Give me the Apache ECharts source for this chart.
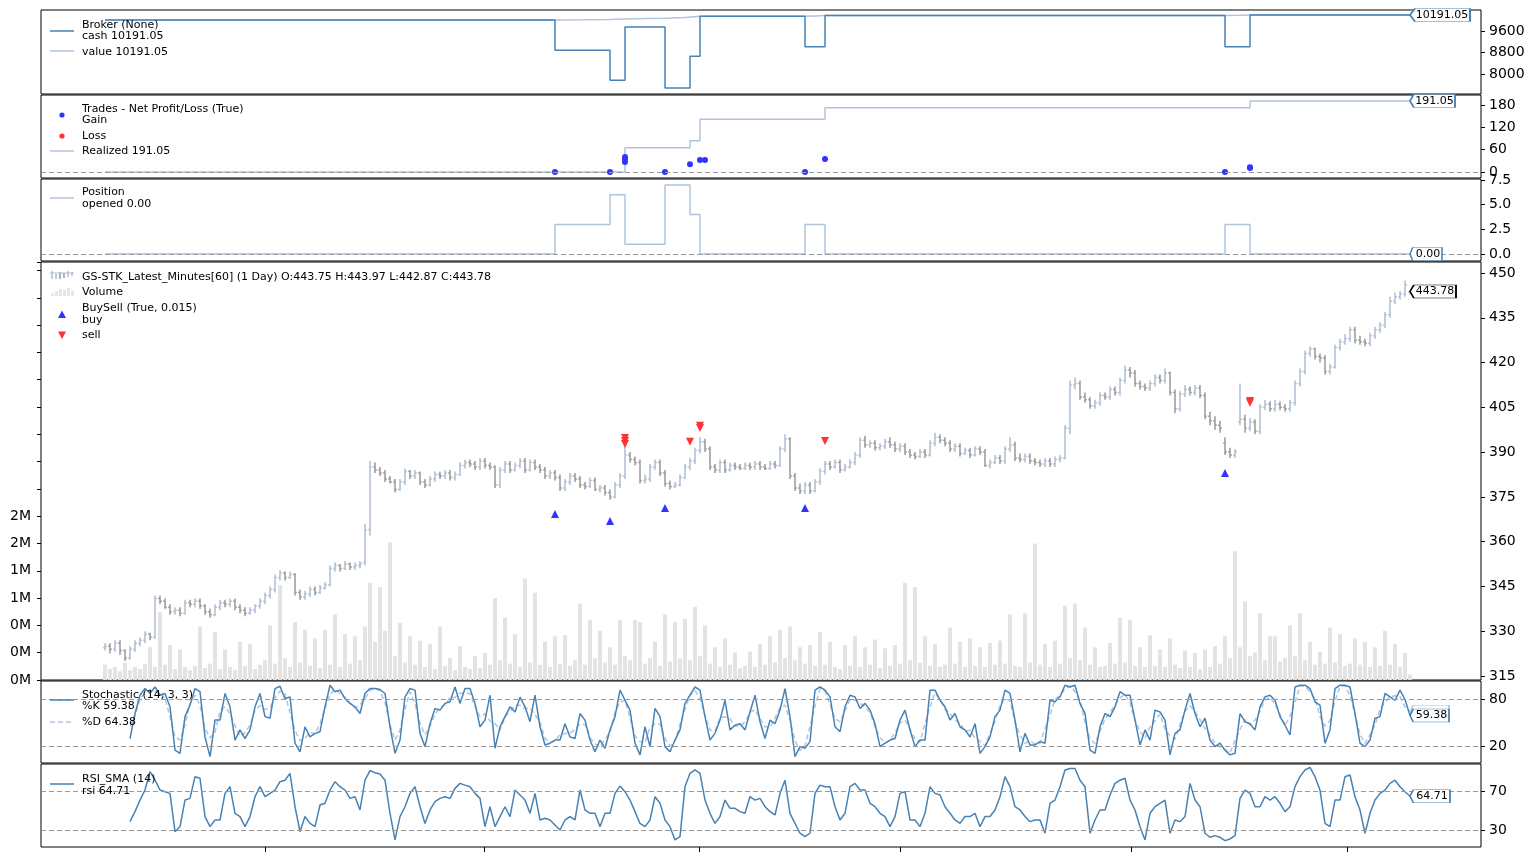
<!DOCTYPE html>
<html><head><meta charset="utf-8">
<script src="https://cdn.jsdelivr.net/npm/echarts@6/dist/echarts.min.js"></script>
<style>html,body{margin:0;padding:0;background:#fff}#c{width:1535px;height:862px}</style>
</head><body><div id="c"></div>
<script>
// ---------------- DATA ----------------
// bar index 0..261 (resampled hourly bars)
const priceOpen = [
324.5,325,324,326,323.5,321,324,326,327,329,
328,341,340,338,336.5,337,336,339.5,339,340,
338.5,336.5,335.5,338,339.5,339,340,338,337,336,
337,338.5,340,342,344,348,349.5,348,349,343,
341.5,342.5,344,343,344.5,345.5,351,352,351,352.5,
351.5,352,353,364,385,384,383,381,380,377.5,
380,383.5,382,383,380,379,381,382.5,382,383,
381.5,382.5,385.5,386.5,386,385,387,385.5,385,379,
384,386,384,385.5,387,384,386.5,385,384,382,
383,381.5,378,380,382,381,379,378.5,380.5,377.5,
378,376.5,375,379,382,389,387.5,386.5,380.5,381,
385,386.5,383,379.5,378.5,379,381.5,385,387,390.5,
393.5,391,385,384,386.5,384,385.5,385,384.5,385.5,
385,386,385,384.5,386,385.5,391,394.5,382,378,
377,379,377,380,383.5,386,385,386.5,384,385,
386.5,389,394,392.5,393,391.5,392,393.5,392.5,391,
392,390,389,388.5,390,389,393,395,394,393,
391,392,389.5,390.5,389,391,390,385.5,386.5,388,
387,391,392.5,388,387.5,388.5,387,386.5,386,387,
386,387.5,388,398,412.5,413,408.5,407.5,405.5,406.5,
409,408.5,411,410,414,417.5,416.5,413,412,411.5,
413,415,414,416.5,410,404.5,409.5,411,410,411.5,
409,402,400.5,399,393,390,389,400,401,398,
400,397,405,406,404.5,406,405,404.5,406.5,413,
417,423,424.5,422,421.5,417,418.5,425,427,428,
431,427.5,427,426.5,429,431,432.5,436,440.5,442,
443,443.75];
const priceHigh = [
326,326,327,327,324,325,327,328,330,329.5,
342,342,341,339,338,338,340.5,340.5,341,341,
339,337.5,339,340.5,340.5,341,341,339,338,338,
339,341,343,345,349,350.5,350,350,349.5,344,
343.5,345,345,345.5,346.5,352,353,352.5,353.5,353,
353,353.5,366,387,386.5,385,384,382,381,381,
384.5,384,384,383.5,381,382,383.5,383.5,384,384,
383.5,386.5,387.5,387.5,387,388,388,386.5,385.5,385,
387,387,386.5,388,388,387.5,387.5,386,385,384,
384,382.5,381,383,383,382,380,381.5,381.5,379,
379,377.5,380,383,393.5,390,388.5,387.5,382.5,386,
387.5,387.5,384,380.5,380,382.5,386,388,391.5,395,
394.5,392,386,387.5,387.5,386.5,386.5,386,386.5,386.5,
387,387,386,387,387,392,396,395,383,379.5,
380,380,381,384.5,387,387,387.5,387.5,386,387.5,
390,395,395.5,394,394,393,394.5,395,393.5,393,
393,391,390,391,391,394,396.5,396,395,394,
393,393,391.5,391.5,392,392,391,387.5,389,389,
392,395,393.5,389.5,389.5,389.5,388,387.5,388,388,
388.5,389,399,414,415,414,410,408.5,407.5,410,
410,412,412,415,419,418.5,417.5,414,413,414,
416,416,418,417,411,410.5,412.5,412,412.5,412.5,
410,403.5,402,400.5,395,391.5,391,413,402.5,401.5,
401,406,407.5,407,407.5,407,406,407.5,414,418,
424,425.5,425,423,422.5,419.5,426,428,429.5,432,
432,429,428,430,432,433.5,437,442,443.5,444,
447.5,443.97];
const priceLow = [
323.5,322.5,323,322,320,320.5,323,325,326,327,
327.5,339,337.5,335.5,335.5,335,335.5,338,338,337.5,
335.5,334.5,335,337,338,338,337,336,335,335.5,
336,337.5,339,341,343,347,347,347.5,342,340.5,
340.5,341.5,342,342.5,344,345,350,350,350.5,350.5,
350.5,351,352,362,383,382,380,379.5,376.5,377,
379,381,381,379,378,378.5,380,381,381,380.5,
380.5,382,384.5,385,384,384,384.5,384,378,378,
383,383,383.5,384.5,383,383.5,384,383,381,381,
380.5,377,377,379,380,378,377.5,378,377,376.5,
375.5,374,374.5,378,381,386.5,385.5,379.5,379.5,380,
384,382,378.5,377.5,378,378.5,381,384,386,389.5,
390,384,383,383,383,383.5,384,384,384,384,
384,384,384,384,384.5,385,390,381,377,376,
376,376,376.5,379,382.5,384,384.5,383,383.5,384.5,
385.5,388,391.5,391.5,390.5,390.5,391,391.5,390,390,
389,388,387.5,388,388,388.5,392,393,392,390,
390,388.5,389,388,388.5,389,385,384.5,386,386,
386,390,387,386.5,386.5,386,385.5,385,385,385,
385,386.5,387.5,396,411,407.5,406.5,404.5,404.5,405.5,
407.5,407.5,409,409,413,415,412,411,410.5,410.5,
412,413,413,409,403,403.5,408.5,409,409,408,
401,399,397.5,396.5,389,388,388,399,396.5,397,
396,396,404,403.5,403.5,404,403.5,403.5,405.5,412,
416,422,421,420,416,416,418,424,426,427,
426.5,426,425.5,425.5,428,430,431.5,435,439.5,441,
442,442.87];
const priceClose = [
325,324,326,323.5,321,324,326,327,329,328,
341,340,338,336.5,337,336,339.5,339,340,338.5,
336.5,335.5,338,339.5,339,340,338,337,336,337,
338.5,340,342,344,348,349.5,348,349,343,341.5,
342.5,344,343,344.5,345.5,351,352,351,352.5,351.5,
352,352.5,364,385,384,383,381,380,377.5,380,
383.5,382,383,380,379,381,382.5,382,383,381.5,
382.5,385.5,386.5,386,385,387,385.5,385,379,384,
386,384,385.5,387,384,386.5,385,384,382,383,
381.5,378,380,382,381,379,378.5,380.5,377.5,378,
376.5,375,379,382,389,387.5,386.5,380.5,381,385,
386.5,383,379.5,378.5,379,381.5,385,387,390.5,393.5,
391,385,384,386.5,384,385.5,385,384.5,385.5,385,
386,385,384.5,386,385.5,391,394.5,382,378,377,
379,377,380,383.5,386,385,386.5,384,385,386.5,
389,394,392.5,393,391.5,392,393.5,392.5,391,392,
390,389,388.5,390,389,393,395,394,393,391,
392,389.5,390.5,389,391,390,385.5,386.5,388,387,
391,392.5,388,387.5,388.5,387,386.5,386,387,386,
387.5,388,398,412.5,413,408.5,407.5,405.5,406.5,409,
408.5,411,410,414,417.5,416.5,413,412,411.5,413,
415,414,416.5,410,404.5,409.5,411,410,411.5,409,
402,400.5,399,398,390,389,390,401,398,400,
397,405,406,404.5,406,405,404.5,406.5,413,417,
423,424.5,422,421.5,417,418.5,425,427,428,431,
427.5,427,426.5,429,431,432.5,436,440.5,442,443,
446,443.78];
// volume in millions
const volumeM = [
0.14,0.1,0.12,0.08,0.16,0.09,0.12,0.1,0.15,0.3,
0.12,0.62,0.14,0.32,0.1,0.28,0.12,0.09,0.13,0.49,
0.11,0.15,0.44,0.1,0.28,0.12,0.09,0.35,0.13,0.33,
0.1,0.14,0.18,0.5,0.15,0.87,0.2,0.12,0.53,0.16,
0.46,0.13,0.38,0.11,0.46,0.14,0.6,0.12,0.42,0.15,
0.4,0.18,0.49,0.89,0.35,0.85,0.45,1.26,0.22,0.52,
0.16,0.4,0.14,0.36,0.12,0.33,0.1,0.49,0.13,0.2,
0.09,0.31,0.12,0.1,0.22,0.11,0.25,0.14,0.75,0.18,
0.57,0.15,0.42,0.12,0.93,0.16,0.8,0.14,0.35,0.12,
0.4,0.15,0.41,0.13,0.18,0.7,0.14,0.55,0.2,0.45,
0.16,0.3,0.14,0.55,0.22,0.18,0.55,0.53,0.15,0.2,
0.35,0.13,0.6,0.17,0.53,0.2,0.56,0.18,0.67,0.22,
0.5,0.15,0.3,0.12,0.38,0.14,0.25,0.11,0.13,0.26,
0.12,0.33,0.14,0.4,0.16,0.46,0.2,0.49,0.18,0.3,
0.15,0.32,0.13,0.44,0.14,0.35,0.12,0.1,0.32,0.13,
0.4,0.12,0.3,0.14,0.37,0.11,0.29,0.13,0.32,0.15,
0.89,0.18,0.85,0.16,0.4,0.13,0.33,0.12,0.14,0.48,
0.15,0.35,0.12,0.38,0.13,0.3,0.12,0.34,0.14,0.36,
0.15,0.6,0.13,0.12,0.61,0.16,1.25,0.14,0.33,0.12,
0.36,0.15,0.68,0.2,0.7,0.18,0.48,0.14,0.3,0.12,
0.13,0.34,0.15,0.57,0.16,0.55,0.13,0.3,0.12,0.41,
0.13,0.28,0.12,0.38,0.14,0.11,0.27,0.12,0.25,0.1,
0.28,0.12,0.31,0.15,0.4,0.2,1.18,0.3,0.72,0.22,
0.25,0.61,0.18,0.4,0.4,0.17,0.2,0.5,0.22,0.61,
0.18,0.35,0.14,0.26,0.15,0.48,0.16,0.42,0.13,0.15,
0.38,0.14,0.35,0.12,0.3,0.13,0.45,0.14,0.33,0.12,
0.25,0.05];
const volTickLabels = ['0M','0M','0M','1M','1M','2M','2M'];
const stochK = [
null,null,null,null,null,30,62,85.5,94,88,
96,85.5,87.7,70.6,15,11,58,72.8,94,90,
32,6.8,53.6,53.6,87.7,70.6,28,41,30,41,
70.6,87.7,58,56,94,97,81,83.4,24,13,
45,32,36.6,38.7,70.6,98.3,90,92,81,75,
70.6,62,87.7,94,94,92.8,87.7,45,11,28,
83.4,94,92,36.6,19.6,49,68.5,66.4,75,77,
96,75,94,94,75,45,53.6,85.5,17.5,45,
58,70.6,64,83,70.6,51.5,85.5,45,21.7,24,
28,28,49,32,30,62,53.6,28,13,28,
17.5,41,58,92,79,66.4,24,9,45,19.6,
68.5,58,19.6,13,28,41,75,85.5,96,92,
58,28,36.6,53.6,79,41,47,49,41,64,
85.5,51.5,30,53.6,49,66.4,94,58,6.8,19.6,
17.5,26,92,96,92,83.4,45,38.7,70.6,85.5,
83.4,68.5,75,66.4,49,19.6,24,28,30,53.6,
66.4,41,19.6,28,28,92,92,79,70.6,53.6,
62,45,41,32,49,11,19.6,32,58,66.4,
92,87.7,53.6,13,36.6,21.7,21.7,26,24,79,
77,83.4,98.3,96,98.3,75,62,15,11,45,
62,58,70.6,90,85.5,85.5,53.6,21.7,41,28,
66.4,64,53.6,9,36.6,41,66.4,87.7,62,45,
56,28,19.6,24,15,9,11,62,51.5,49,
41,70.6,83.4,85.5,79,58,47,34.5,96,98.3,
98.3,94,77,72.8,24,41,94,98.3,98.3,96,
62,24,19.6,28,56,58,87.7,83.4,79,92,
80,59.38];
const stochD = [
null,null,null,null,null,45,59,80.5,89,
92.7,89.8,89.7,81.3,57.8,32.2,28,47.3,74.9,85.6,
72,42.9,30.8,38,65,70.6,62.1,46.5,33,37.3,
47.2,66.4,72.1,67.2,69.3,82.3,90.7,87.1,62.8,40.1,
27.3,30,37.9,35.8,48.6,69.2,86.3,93.4,87.7,82.7,
75.5,69.2,73.4,81.2,91.9,93.6,91.5,75.2,47.9,28,
40.8,68.5,89.8,74.2,49.4,35.1,45.7,61.3,70,72.8,
82.7,82.7,88.3,87.7,87.7,71.3,57.9,61.4,52.2,49.3,
40.2,57.9,64.2,72.5,72.5,68.4,69.2,60.7,50.7,30.2,
24.6,26.7,35,36.3,37,41.3,48.5,47.9,31.5,23,
19.5,28.8,38.8,63.7,76.3,79.1,56.5,33.1,26,24.5,
44.4,48.7,48.7,30.2,20.2,27.3,48,67.2,85.5,91.2,
82,59.3,40.9,39.4,56.4,57.9,55.7,45.7,45.7,51.3,
63.5,67,55.7,45,44.2,56.3,69.8,72.8,52.9,28.1,
14.6,21,45.2,71.3,93.3,90.5,73.5,55.7,51.4,64.9,
79.8,79.1,75.6,70,63.5,45,30.9,23.9,27.3,37.2,
50,53.7,42.3,29.5,25.2,49.3,70.7,87.7,80.5,67.7,
62.1,53.5,49.3,39.3,40.7,30.7,26.5,20.9,36.5,52.1,
72.1,82,77.8,51.4,34.4,23.8,26.7,23.1,23.9,43,
60,79.8,86.2,92.6,97.5,89.8,78.4,50.7,29.3,23.7,
39.3,55,63.5,72.9,82,87,74.9,53.6,38.8,30.2,
45.1,52.8,61.3,42.2,33.1,28.9,48,65,72,64.9,
54.3,43,34.5,23.9,19.5,16,11.7,27.3,41.5,54.2,
47.2,53.5,65,79.8,82.6,74.2,61.3,46.5,59.2,76.3,
97.5,96.9,89.8,81.3,57.9,45.9,53,77.8,96.9,97.5,
85.4,60.7,35.2,23.9,34.5,47.3,67.2,76.4,83.4,84.8,
84,70,64.38];
const rsi = [
null,null,null,null,null,38.8,49,60.8,71,89.7,
81,71,69.3,67.6,28.6,33.7,60.8,62.5,84.6,83,
44,33.7,40.5,40.5,67.6,74.4,47.3,44,33.7,44,
64.2,74.4,64.2,67.6,71,79.5,81,88,54,28.6,
44,37,33.7,55.8,57.5,71,79.5,74.4,71,62.5,
64.2,50.7,81,90.7,88.6,87.3,81,47.3,20.2,44,
54,67.6,74.4,54,37,50.7,59.2,62.5,64.2,62.5,
72.7,77.8,76,74.4,67.6,62.5,33.7,54,33.7,44,
54,44,71,66,60.8,47.3,67.6,40.5,42.2,40.5,
35.4,30.3,40.5,44,40.5,71,50.7,47.3,47.3,33.7,
47.3,47.3,67.6,75,69.3,60.8,49,37,33.7,40.5,
64.2,57.5,40.5,33.7,20.2,23.6,74.4,88,91.4,88,
60.8,47.3,37,44,60.8,52.4,52.4,49,47.3,64.2,
60.8,62.5,54,49,45.6,67.6,81,47.3,37,27,
23.6,27,67.6,76,74.4,74.4,54,40.5,47.3,74.4,
77.8,71,71,57.5,54,47.3,44,33.7,44,67.6,
69.3,40.5,40.5,33.7,47.3,74.4,67.6,66,54,47.3,
40.5,37,44,44,47.3,33.7,44,44,50.7,64.2,
84.6,74.4,54,50.7,44,38.8,40.5,40.5,27,57.5,
60.8,74.4,91.4,93,93,81,74.4,27,40.5,50.7,
50.7,66,77.8,81,83,60.8,50.7,33.7,20.2,47.3,
54,57.5,60.8,27,40.5,38.8,44,77.8,60.8,54,
27,22.9,24.6,22.9,19.5,21.2,24.6,62.5,71,67.6,
54,54,64.2,60.8,64.2,57.5,49,54,74.4,84.6,
91.4,94,84.6,71,37,33.7,60.8,60.8,84.6,86.3,
64.2,50.7,27,47.3,60.8,67.6,71,77.8,81,74.4,
69.3,64.71];
// broker / trades / position: change points (bar index, value)
const cashIdx  = [0, 90, 101, 104, 112, 117, 119, 140, 144, 224, 229, 261];
const cashVal  = [10000, 8890, 7786, 9746, 7502, 8672, 10140, 9024, 10170, 9021, 10191.05, 10191.05];
const valueIdx = [0, 90, 96, 101, 104, 108, 112, 116, 119, 140, 142, 144, 224, 227, 229, 261];
const valueVal = [10000, 10000, 10010, 10020, 10045, 10055, 10070, 10100, 10140, 10140, 10155, 10170, 10170, 10180, 10191.05, 10191.05];
const realIdx  = [0, 104, 117, 119, 144, 229, 261];
const realVal  = [0, 65.3, 84.1, 141.6, 172.8, 191.05, 191.05];
const gainIdx  = [90, 101, 104, 104, 104, 112, 117, 119, 120, 140, 144, 224, 229, 229];
const gainVal  = [0, 0, 27, 35, 40, 0, 21, 32, 32, 0, 35, 0, 13, 11];
const lossIdx  = [];
const lossVal  = [];
const posIdx   = [0, 90, 101, 104, 112, 117, 119, 140, 144, 224, 229, 261];
const posVal   = [0, 3, 6, 1, 7, 4, 0, 3, 0, 3, 0, 0];
const buyIdx   = [90, 101, 112, 140, 224];
const buyVal   = [369.3, 366.9, 371.3, 371.3, 383.0];
const sellIdx  = [104, 104, 104, 117, 119, 119, 144, 229, 229];
const sellVal  = [394.7, 393.7, 392.7, 393.5, 398.8, 398.1, 393.7, 407.1, 406.5];
// axis ticks
const brokerTicks = [8000, 8800, 9600];
const tradeTicks  = [0, 60, 120, 180];
const posTicks    = [0, 2.5, 5, 7.5];
const priceTicks  = [315, 330, 345, 360, 375, 390, 405, 420, 435, 450];
const stochTicks  = [20, 80];
const rsiTicks    = [30, 70];
const xTickPos    = [32, 75.8, 118.9, 159, 205.2, 248.4];

// ---------------- CHART ----------------
const FONT = '"DejaVu Sans", sans-serif';
const STEEL = '#4682b4', LIGHT = '#b0c4de', UP = '#aebdd2', DOWN = '#999999';
const BLUE = '#3333ff', RED = '#ff3333';
const XMIN = -12.8, XMAX = 275.2;
const pairs = (a, b) => a.map((x, i) => [x, b[i]]);
const idxSeries = arr => arr.map((v, i) => [i, v]);
const last = a => a[a.length - 1];

const gridBoxes = [[10, 84], [95, 83], [179, 82], [262, 418], [681, 82], [764, 83]];
const grid = gridBoxes.map(([t, h]) => ({left: 41, width: 1440, top: t, height: h, show: true,
  borderColor: '#000', borderWidth: 1, backgroundColor: 'transparent', containLabel: false}));

const xAxis = gridBoxes.map((g, i) => ({
  type: 'value', gridIndex: i, min: XMIN, max: XMAX,
  axisLine: {show: false, onZero: false}, splitLine: {show: false}, axisLabel: {show: false},
  axisTick: i === 5 ? {show: true, customValues: xTickPos, length: 5, lineStyle: {color: '#000', width: 1}} : {show: false}
}));

function yAx(gi, min, max, ticks, fmt) {
  return {type: 'value', gridIndex: gi, position: 'right', min, max,
    axisLine: {show: false, onZero: false}, splitLine: {show: false},
    axisTick: {show: true, customValues: ticks, length: 4, lineStyle: {color: '#000'}},
    axisLabel: {show: true, customValues: ticks, formatter: fmt || (v => String(v)), fontFamily: FONT, fontSize: 14, color: '#000', margin: 8}};
}
const yAxis = [
  yAx(0, 7283, 10372, brokerTicks),
  yAx(1, -16.1, 206.9, tradeTicks),
  yAx(2, -0.71, 7.6, posTicks, v => v.toFixed(1)),
  yAx(3, 313.66, 453.68, priceTicks),
  yAx(4, -1.4, 103.7, stochTicks),
  yAx(5, 13, 97.5, rsiTicks),
  {type: 'value', gridIndex: 3, position: 'left', min: 0, max: 3.828, interval: 0.25,
    axisLine: {show: false, onZero: false}, splitLine: {show: false},
    axisTick: {show: true, length: 4, lineStyle: {color: '#000'}},
    axisLabel: {show: true, margin: 10, fontFamily: FONT, fontSize: 14, color: '#000',
      formatter: v => { const k = Math.round(v / 0.25); return (Math.abs(v - k * 0.25) < 1e-6 && volTickLabels[k]) || ''; }}}
];

function tag(coord, text, w, border, showText) {
  return {silent: true, animation: false,
    symbol: 'path://M0,6L5,0L60,0L60,12L5,12Z', symbolSize: [w, 13], symbolOffset: [w / 2, 0], symbolKeepAspect: false,
    itemStyle: {color: '#fff', borderColor: border, borderWidth: 1},
    label: {show: showText !== false, position: 'inside', offset: [2, 0], color: '#000', fontFamily: FONT, fontSize: 11, formatter: text},
    data: [{coord: coord, value: text}]};
}
function refLine(vals) {
  return {silent: true, animation: false, symbol: ['none', 'none'], label: {show: false},
    lineStyle: {color: '#999', type: [5, 3], width: 1}, data: vals.map(v => ({yAxis: v}))};
}

const ohlcData = priceClose.map((c, i) => [i, priceOpen[i], priceHigh[i], priceLow[i], c]);

const series = [
  // Broker
  {type: 'line', xAxisIndex: 0, yAxisIndex: 0, data: pairs(valueIdx, valueVal), showSymbol: false,
    lineStyle: {color: LIGHT, width: 1.5}, z: 2},
  {type: 'line', xAxisIndex: 0, yAxisIndex: 0, step: 'end', data: pairs(cashIdx, cashVal), showSymbol: false,
    lineStyle: {color: STEEL, width: 1.5}, z: 3,
    markPoint: tag([last(cashIdx), last(cashVal)], last(cashVal).toFixed(2), 60, STEEL)},
  // Trades
  {type: 'line', xAxisIndex: 1, yAxisIndex: 1, step: 'end', data: pairs(realIdx, realVal), showSymbol: false,
    lineStyle: {color: LIGHT, width: 1.5}, z: 3, markLine: refLine([0]),
    markPoint: tag([last(realIdx), last(realVal)], last(realVal).toFixed(2), 45, STEEL)},
  {type: 'scatter', xAxisIndex: 1, yAxisIndex: 1, data: pairs(gainIdx, gainVal), symbolSize: 6,
    itemStyle: {color: BLUE, opacity: 1}, z: 4},
  {type: 'scatter', xAxisIndex: 1, yAxisIndex: 1, data: pairs(lossIdx, lossVal), symbolSize: 6,
    itemStyle: {color: RED, opacity: 1}, z: 4},
  // Position
  {type: 'line', xAxisIndex: 2, yAxisIndex: 2, step: 'end', data: pairs(posIdx, posVal), showSymbol: false,
    lineStyle: {color: LIGHT, width: 1.5}, z: 3, markLine: refLine([0]),
    markPoint: tag([last(posIdx), last(posVal)], last(posVal).toFixed(2), 32, STEEL)},
  // Volume
  {type: 'bar', xAxisIndex: 3, yAxisIndex: 6, data: idxSeries(volumeM), barWidth: 4,
    itemStyle: {color: '#e3e3e3'}, z: 1, silent: true},
  // OHLC bars
  {type: 'custom', xAxisIndex: 3, yAxisIndex: 3, data: ohlcData, z: 2, silent: true,
    encode: {x: 0, y: [1, 2, 3, 4]},
    renderItem: (params, api) => {
      const x = api.value(0), o = api.value(1), h = api.value(2), l = api.value(3), c = api.value(4);
      const pH = api.coord([x, h]), pL = api.coord([x, l]), pO = api.coord([x, o]), pC = api.coord([x, c]);
      const col = c >= o ? UP : DOWN;
      const st = {stroke: col, lineWidth: 1.5};
      return {type: 'group', children: [
        {type: 'line', shape: {x1: pH[0], y1: pH[1], x2: pL[0], y2: pL[1]}, style: st},
        {type: 'line', shape: {x1: pO[0] - 1.8, y1: pO[1], x2: pO[0], y2: pO[1]}, style: st},
        {type: 'line', shape: {x1: pC[0], y1: pC[1], x2: pC[0] + 1.8, y2: pC[1]}, style: st}
      ]};
    }},
  // Buy / Sell
  {type: 'scatter', xAxisIndex: 3, yAxisIndex: 3, data: pairs(buyIdx, buyVal), symbol: 'triangle', symbolSize: [8, 8],
    itemStyle: {color: BLUE, opacity: 1}, z: 4,
    markPoint: tag([priceClose.length - 1, last(priceClose)], last(priceClose).toFixed(2), 46, '#000')},
  {type: 'scatter', xAxisIndex: 3, yAxisIndex: 3, data: pairs(sellIdx, sellVal), symbol: 'path://M0,0L10,0L5,9Z', symbolSize: [8, 8],
    itemStyle: {color: RED, opacity: 1}, z: 4},
  // Stochastic
  {type: 'line', xAxisIndex: 4, yAxisIndex: 4, data: idxSeries(stochD), showSymbol: false,
    lineStyle: {color: LIGHT, width: 1.5, type: [5, 3]}, z: 2, markLine: refLine(stochTicks),
    markPoint: tag([stochD.length - 1, last(stochD)], last(stochD).toFixed(2), 39, LIGHT, false)},
  {type: 'line', xAxisIndex: 4, yAxisIndex: 4, data: idxSeries(stochK), showSymbol: false,
    lineStyle: {color: STEEL, width: 1.5}, z: 3,
    markPoint: tag([stochK.length - 1, last(stochK)], last(stochK).toFixed(2), 39, STEEL)},
  // RSI
  {type: 'line', xAxisIndex: 5, yAxisIndex: 5, data: idxSeries(rsi), showSymbol: false,
    lineStyle: {color: STEEL, width: 1.5}, z: 3, markLine: refLine(rsiTicks),
    markPoint: tag([rsi.length - 1, last(rsi)], last(rsi).toFixed(2), 40, STEEL)}
];

// legends (text + icons)
const els = [];
const T = (x, y, s) => els.push({type: 'text', x, y, z: 100, silent: true,
  style: {text: s, fill: '#000', font: '11px ' + FONT, align: 'left', verticalAlign: 'middle'}});
const LN = (y, c, dash) => els.push({type: 'line', z: 100, silent: true,
  shape: {x1: 50, y1: y, x2: 74, y2: y}, style: {stroke: c, lineWidth: 1.5, lineDash: dash || null}});
const DOT = (y, c) => els.push({type: 'circle', z: 100, silent: true, shape: {cx: 62, cy: y, r: 2.6}, style: {fill: c}});
LN(31, STEEL); T(82, 25, 'Broker (None)'); T(82, 36, 'cash ' + last(cashVal).toFixed(2));
LN(51, LIGHT); T(82, 52, 'value ' + last(valueVal).toFixed(2));
DOT(115, BLUE); T(82, 109, 'Trades - Net Profit/Loss (True)'); T(82, 120, 'Gain');
DOT(136, RED); T(82, 136, 'Loss');
LN(151, LIGHT); T(82, 151, 'Realized ' + last(realVal).toFixed(2));
LN(198, LIGHT); T(82, 192, 'Position'); T(82, 204, 'opened ' + last(posVal).toFixed(2));
// OHLC icon
[[52, 271, 279, UP], [56, 274, 279, UP], [60, 272, 279, DOWN], [64, 273, 278, DOWN], [68, 271, 277, UP], [72, 272, 276, UP]]
  .forEach(([x, y1, y2, c]) => els.push({type: 'line', z: 100, silent: true, shape: {x1: x, y1, x2: x, y2}, style: {stroke: c, lineWidth: 1.5}}));
els.push({type: 'line', z: 100, silent: true, shape: {x1: 50, y1: 273, x2: 74, y2: 273}, style: {stroke: UP, lineWidth: 1}});
T(82, 277, 'GS-STK_Latest_Minutes[60] (1 Day) O:' + last(priceOpen).toFixed(2) + ' H:' + last(priceHigh).toFixed(2) +
  ' L:' + last(priceLow).toFixed(2) + ' C:' + last(priceClose).toFixed(2));
[[51, 293, 3], [55, 291, 5], [59, 289, 7], [63, 290, 6], [67, 288, 8], [71, 291, 5]]
  .forEach(([x, y, h]) => els.push({type: 'rect', z: 100, silent: true, shape: {x, y, width: 3, height: h}, style: {fill: '#e6e6e6'}}));
T(82, 292, 'Volume');
els.push({type: 'polygon', z: 100, silent: true, shape: {points: [[58, 318], [66, 318], [62, 310.5]]}, style: {fill: BLUE}});
T(82, 308, 'BuySell (True, 0.015)'); T(82, 320, 'buy');
els.push({type: 'polygon', z: 100, silent: true, shape: {points: [[58, 331.5], [66, 331.5], [62, 339]]}, style: {fill: RED}});
T(82, 335, 'sell');
LN(700, STEEL); T(82, 695, 'Stochastic (14, 3, 3)'); T(82, 706, '%K ' + last(stochK).toFixed(2));
LN(722, LIGHT, [5, 3]); T(82, 722, '%D ' + last(stochD).toFixed(2));
LN(784, STEEL); T(82, 779, 'RSI_SMA (14)'); T(82, 791, 'rsi ' + last(rsi).toFixed(2));

const chart = echarts.init(document.getElementById('c'), null, {renderer: 'canvas'});
chart.setOption({
  animation: false, backgroundColor: '#fff',
  textStyle: {fontFamily: FONT},
  grid, xAxis, yAxis, series,
  graphic: {elements: els}
});
</script></body></html>
